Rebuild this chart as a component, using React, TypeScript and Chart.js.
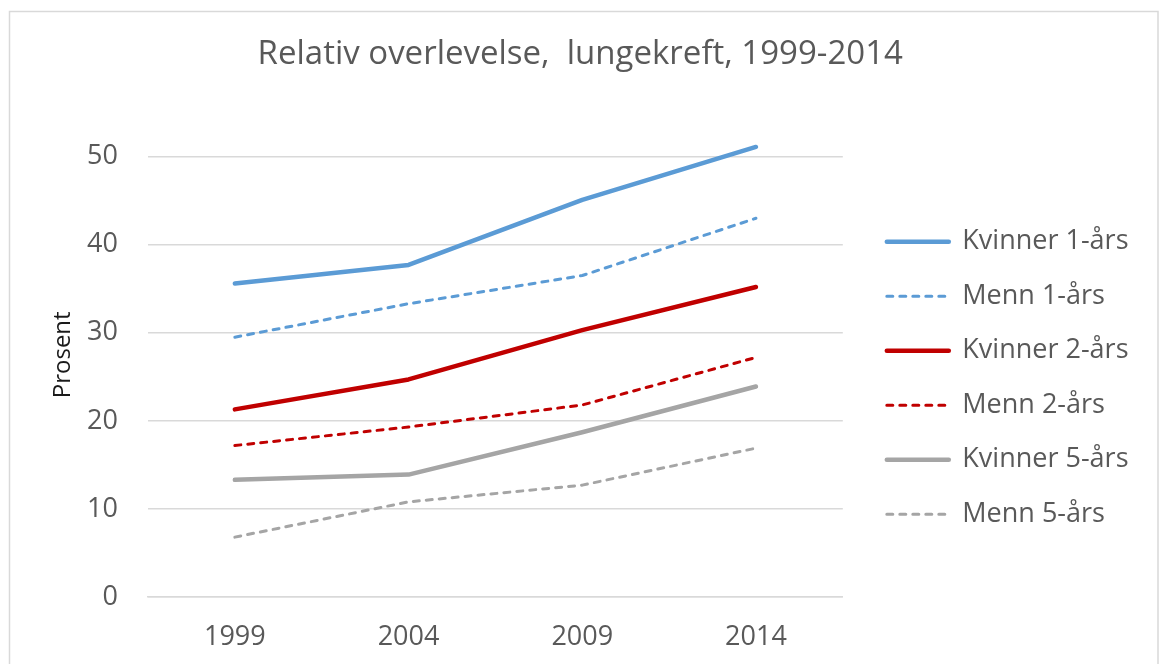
import React, { useEffect, useRef } from 'react';
import { Chart, registerables } from 'chart.js';

Chart.register(...registerables);

const years = ['1999', '2004', '2009', '2014'];
const kvinner1 = [35.6, 37.7, 45.1, 51.1];
const menn1 = [29.5, 33.3, 36.5, 43.0];
const kvinner2 = [21.3, 24.7, 30.3, 35.2];
const menn2 = [17.2, 19.3, 21.8, 27.2];
const kvinner5 = [13.3, 13.9, 18.7, 23.9];
const menn5 = [6.8, 10.8, 12.7, 16.9];
const yTickValues = [0, 10, 20, 30, 40, 50];

const BLUE = '#5B9BD5';
const RED = '#C00000';
const GREY = '#A5A5A5';
const TEXT = '#595959';
const FONT = "'Open Sans', sans-serif";

const framePlugin = {
  id: 'frame',
  beforeDraw(chart: any) {
    const ctx = chart.ctx;
    ctx.save();
    ctx.fillStyle = '#ffffff';
    ctx.fillRect(0, 0, chart.width, chart.height);
    ctx.strokeStyle = '#D9D9D9';
    ctx.lineWidth = 1.5;
    ctx.strokeRect(9.5, 11.5, 1148.5, 900);
    ctx.restore();
  },
};

function solid(label: string, data: number[], color: string) {
  return {
    label,
    data,
    borderColor: color,
    backgroundColor: color,
    borderWidth: 4.5,
    borderCapStyle: 'round',
    borderJoinStyle: 'round',
    pointRadius: 0,
    pointHoverRadius: 0,
    tension: 0,
    fill: false,
  };
}

function dashed(label: string, data: number[], color: string) {
  return {
    label,
    data,
    borderColor: color,
    backgroundColor: color,
    borderWidth: 3,
    borderDash: [6, 7],
    borderCapStyle: 'round',
    borderJoinStyle: 'round',
    pointRadius: 0,
    pointHoverRadius: 0,
    tension: 0,
    fill: false,
  };
}

export default function App() {
  const ref = useRef<HTMLCanvasElement | null>(null);

  useEffect(() => {
    if (!ref.current) return;
    const defaultLabels = (Chart as any).defaults.plugins.legend.labels.generateLabels;
    const chart = new Chart(ref.current, {
      type: 'line',
      data: {
        labels: years,
        datasets: [
          solid('Kvinner 1-års', kvinner1, BLUE),
          dashed('Menn 1-års', menn1, BLUE),
          solid('Kvinner 2-års', kvinner2, RED),
          dashed('Menn 2-års', menn2, RED),
          solid('Kvinner 5-års', kvinner5, GREY),
          dashed('Menn 5-års', menn5, GREY),
        ] as any,
      },
      options: {
        responsive: false,
        animation: false,
        layout: { padding: { left: 22, right: 21.5, top: 12, bottom: 16 } },
        plugins: {
          title: {
            display: true,
            text: 'Relativ overlevelse,  lungekreft, 1999-2014',
            color: TEXT,
            font: { family: FONT, size: 33, weight: 'normal' },
            padding: { top: 23, bottom: 38 },
          },
          legend: {
            display: true,
            position: 'right',
            align: 'center',
            maxWidth: 500,
            labels: {
              usePointStyle: true,
              pointStyle: 'line',
              pointStyleWidth: 62,
              padding: 27.5,
              color: TEXT,
              font: { family: FONT, size: 27 },
              generateLabels: (chart: any) => {
                const items = defaultLabels(chart);
                return items.map((it: any) => {
                  const ds = chart.data.datasets[it.datasetIndex];
                  return {
                    ...it,
                    lineWidth: ds.borderWidth,
                    lineDash: ds.borderDash || [],
                    lineCap: 'round',
                    strokeStyle: ds.borderColor,
                    fillStyle: ds.borderColor,
                    pointStyle: 'line',
                  };
                });
              },
            },
          },
          tooltip: { enabled: false },
        },
        scales: {
          x: {
            offset: true,
            grid: { display: false, drawTicks: false },
            border: { display: true, color: '#D9D9D9', width: 1.5 },
            ticks: {
              color: TEXT,
              padding: 24,
              font: { family: FONT, size: 27 },
            },
            afterFit: (s: any) => {
              s.height = 147;
            },
          },
          y: {
            min: 0,
            max: 55,
            afterBuildTicks: (axis: any) => {
              axis.ticks = yTickValues.map((v) => ({ value: v }));
            },
            grid: { color: '#D9D9D9', lineWidth: 1.5, drawTicks: false },
            border: { display: false },
            ticks: {
              color: TEXT,
              padding: 30,
              font: { family: FONT, size: 27 },
            },
            title: {
              display: true,
              text: 'Prosent',
              color: '#1a1a1a',
              font: { family: FONT, size: 24 },
              padding: { top: 26.6, bottom: 0 },
            },
            afterFit: (s: any) => {
              s.width = 126;
            },
          },
          yRight: {
            type: 'linear',
            position: 'right',
            display: true,
            grid: { display: false, drawTicks: false },
            border: { display: false },
            ticks: { display: false },
            afterFit: (s: any) => {
              s.width = 16.5;
            },
          },
        },
      } as any,
      plugins: [framePlugin],
    });
    return () => chart.destroy();
  }, []);

  return (
    <div
      style={{
        position: 'fixed',
        left: 0,
        top: 0,
        width: 1160,
        height: 664,
        overflow: 'hidden',
        background: '#fff',
      }}
    >
      <canvas ref={ref} width={1160} height={760} style={{ display: 'block' }} />
    </div>
  );
}
